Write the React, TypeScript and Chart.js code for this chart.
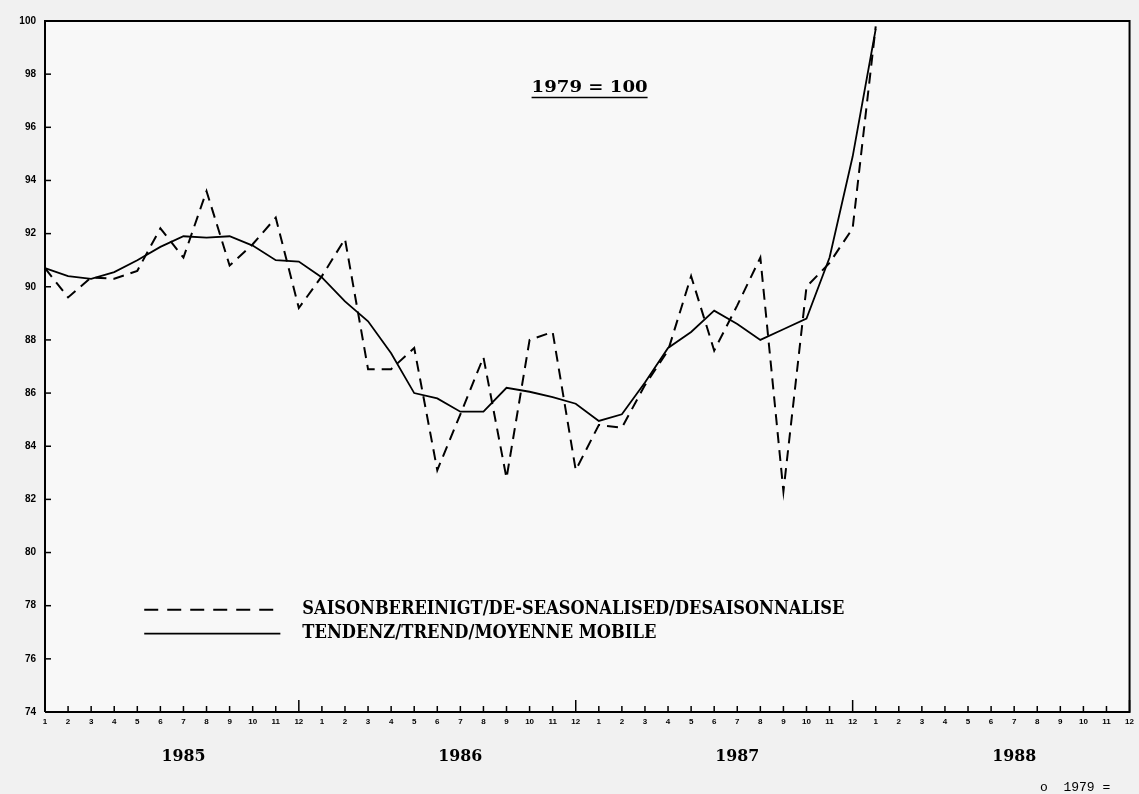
import React, { useEffect, useRef } from "react";
import { Chart, registerables } from "chart.js";

Chart.register(...registerables);

const monthLabels: string[] = [
  "1", "2", "3", "4", "5", "6", "7", "8", "9", "10", "11", "12",
  "1", "2", "3", "4", "5", "6", "7", "8", "9", "10", "11", "12",
  "1", "2", "3", "4", "5", "6", "7", "8", "9", "10", "11", "12",
  "1", "2", "3", "4", "5", "6", "7", "8", "9", "10", "11", "12",
];
const yearLabels: string[] = ["1985", "1986", "1987", "1988"];

const seasonal: number[] = [
  90.7, 89.6, 90.35, 90.3, 90.6, 92.2, 91.1, 93.6, 90.8, 91.6, 92.6, 89.2,
  90.4, 91.8, 86.9, 86.9, 87.7, 83.1, 85.2, 87.35, 82.8, 88.0, 88.3, 83.1,
  84.8, 84.7, 86.3, 87.6, 90.4, 87.6, 89.3, 91.1, 82.3, 90.0, 90.9, 92.2,
  99.8,
];
const trend: number[] = [
  90.7, 90.4, 90.3, 90.55, 91.0, 91.5, 91.9, 91.85, 91.9, 91.55, 91.0, 90.95,
  90.35, 89.45, 88.7, 87.5, 86.0, 85.8, 85.3, 85.3, 86.2, 86.05, 85.85, 85.6,
  84.95, 85.2, 86.4, 87.7, 88.3, 89.1, 88.6, 88.0, 88.4, 88.8, 91.1, 94.9,
  99.7,
];

const seriesNames: string[] = [
  "SAISONBEREINIGT/DE-SEASONALISED/DESAISONNALISE",
  "TENDENZ/TREND/MOYENNE MOBILE",
];
const baseTitle = "1979 = 100";
const footNote = "o  1979 =";

const Y_MIN = 74;
const Y_MAX = 100;
const Y_STEP = 2;

const SERIF = "'DejaVu Serif Condensed', 'DejaVu Serif', serif";

const decorPlugin = {
  id: "decor",
  beforeDraw(chart: any) {
    const ctx = chart.ctx;
    ctx.save();
    ctx.fillStyle = "#f1f1f1";
    ctx.fillRect(0, 0, chart.width, chart.height);
    const a = chart.chartArea;
    ctx.fillStyle = "#f8f8f8";
    ctx.fillRect(a.left, a.top, a.right - a.left, a.bottom - a.top);
    ctx.restore();
  },
  afterDraw(chart: any) {
    const ctx = chart.ctx;
    const a = chart.chartArea;
    const xs = chart.scales.x;
    const ys = chart.scales.y;
    ctx.save();
    // frame
    ctx.strokeStyle = "#000";
    ctx.lineWidth = 2;
    ctx.beginPath();
    ctx.moveTo(a.left, a.bottom);
    ctx.lineTo(a.left, a.top);
    ctx.lineTo(a.right, a.top);
    ctx.lineTo(a.right, a.bottom);
    ctx.lineTo(a.left, a.bottom);
    ctx.stroke();
    // inward ticks x
    ctx.lineWidth = 1.5;
    for (let i = 0; i < monthLabels.length; i++) {
      const px = xs.getPixelForValue(i);
      const len = monthLabels[i] === "12" ? 12 : 6;
      ctx.beginPath();
      ctx.moveTo(px, a.bottom);
      ctx.lineTo(px, a.bottom - len);
      ctx.stroke();
    }
    // inward ticks y
    for (let v = Y_MIN; v <= Y_MAX; v += Y_STEP) {
      const py = ys.getPixelForValue(v);
      ctx.beginPath();
      ctx.moveTo(a.left, py);
      ctx.lineTo(a.left + 6, py);
      ctx.stroke();
    }
    const drawFit = (s: string, x: number, y: number, w: number, align: string) => {
      const m = ctx.measureText(s).width;
      ctx.save();
      ctx.translate(x, y);
      ctx.scale(w / m, 1);
      ctx.textAlign = align;
      ctx.fillText(s, 0, 0);
      ctx.restore();
    };
    // year labels
    ctx.fillStyle = "#000";
    ctx.font = `bold 16px ${SERIF}`;
    ctx.textBaseline = "middle";
    yearLabels.forEach((yl, k) => {
      const px = xs.getPixelForValue(k * 12 + 6);
      drawFit(yl, px, 757, 44, "center");
    });
    // title
    ctx.font = `bold 17px ${SERIF}`;
    const tx = xs.getPixelForValue(23.6);
    const ty = ys.getPixelForValue(97.5);
    const tw = 116;
    drawFit(baseTitle, tx, ty, tw, "center");
    ctx.lineWidth = 1.5;
    ctx.beginPath();
    ctx.moveTo(tx - tw / 2, ty + 10);
    ctx.lineTo(tx + tw / 2, ty + 10);
    ctx.stroke();
    // legend
    const lx0 = xs.getPixelForValue(4.3);
    const lx1 = xs.getPixelForValue(10.2);
    const ly0 = ys.getPixelForValue(77.85);
    const ly1 = ys.getPixelForValue(76.95);
    ctx.lineWidth = 2;
    ctx.setLineDash([14, 9]);
    ctx.beginPath();
    ctx.moveTo(lx0, ly0);
    ctx.lineTo(lx1 - 6, ly0);
    ctx.stroke();
    ctx.setLineDash([]);
    ctx.lineWidth = 1.8;
    ctx.beginPath();
    ctx.moveTo(lx0, ly1);
    ctx.lineTo(lx1, ly1);
    ctx.stroke();
    ctx.font = `bold 18px ${SERIF}`;
    const textX = lx1 + 22;
    drawFit(seriesNames[0], textX, ly0, 542, "left");
    drawFit(seriesNames[1], textX, ly1, 354, "left");
    // footnote
    ctx.font = "13px 'Liberation Mono'";
    ctx.textAlign = "left";
    ctx.fillText(footNote, 1040, 788);
    ctx.restore();
  },
};

export default function App() {
  const ref = useRef<HTMLCanvasElement | null>(null);
  useEffect(() => {
    document.body.style.margin = "0";
    const canvas = ref.current;
    if (!canvas) return;
    const chart = new Chart(canvas, {
      type: "line",
      data: {
        labels: monthLabels,
        datasets: [
          {
            label: seriesNames[0],
            data: seasonal,
            borderColor: "#000",
            borderWidth: 2,
            borderDash: [11, 7],
            pointRadius: 0,
            tension: 0,
            fill: false,
          },
          {
            label: seriesNames[1],
            data: trend,
            borderColor: "#000",
            borderWidth: 1.8,
            pointRadius: 0,
            tension: 0,
            fill: false,
          },
        ],
      },
      options: {
        animation: false,
        responsive: false,
        maintainAspectRatio: false,
        layout: { padding: { top: 21, right: 9, left: 0, bottom: 0 } },
        plugins: {
          legend: { display: false },
          tooltip: { enabled: false },
          title: { display: false },
        },
        scales: {
          x: {
            type: "category",
            offset: false,
            grid: { display: false, drawTicks: false },
            border: { display: false },
            ticks: {
              autoSkip: false,
              maxRotation: 0,
              minRotation: 0,
              padding: 5,
              color: "#000",
              font: { family: "'Liberation Sans'", size: 8, weight: "bold" },
            },
            afterFit: (s: any) => {
              s.height = 82;
            },
          },
          y: {
            type: "linear",
            min: Y_MIN,
            max: Y_MAX,
            grid: { display: false, drawTicks: false },
            border: { display: false },
            ticks: {
              stepSize: Y_STEP,
              padding: 9,
              color: "#000",
              font: { family: "'Liberation Sans'", size: 10, weight: "bold" },
            },
            afterFit: (s: any) => {
              s.width = 45;
            },
          },
        },
      },
      plugins: [decorPlugin],
    });
    return () => chart.destroy();
  }, []);
  return (
    <div style={{ width: 1139, height: 794 }}>
      <canvas ref={ref} width={1139} height={794} style={{ display: "block", width: 1139, height: 794 }} />
    </div>
  );
}
